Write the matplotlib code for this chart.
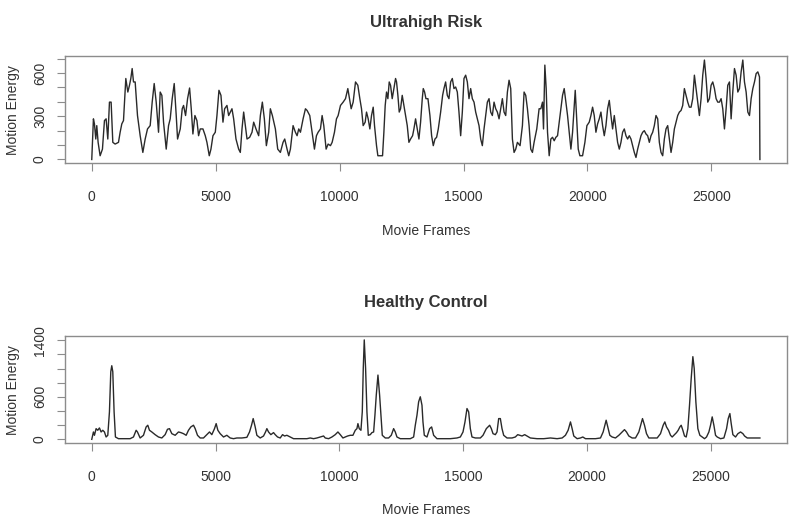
import matplotlib
matplotlib.use("Agg")
import matplotlib.pyplot as plt

# --- Ultrahigh Risk: frame, motion energy ---
uhr_frames = [0, 67, 108, 162, 202, 256, 337, 431, 512, 579, 647, 714, 781, 849, 943,
              1078, 1145, 1212, 1280, 1374, 1455, 1522, 1576, 1630, 1684, 1751, 1845,
              1953, 2061, 2155, 2249, 2357, 2438, 2519, 2600, 2694, 2761, 2829, 2896,
              3004, 3098, 3165, 3246, 3327, 3408, 3462, 3570, 3650, 3704, 3785, 3866,
              3947, 4014, 4081, 4162, 4243, 4310, 4378, 4486, 4580, 4647, 4741, 4809,
              4890, 4984, 5051, 5132, 5213, 5294, 5361, 5455, 5523, 5590, 5657, 5725,
              5819, 5927, 5994, 6062, 6129, 6196, 6264, 6371, 6466, 6533, 6627, 6735,
              6803, 6883, 6964, 7045, 7139, 7206, 7287, 7409, 7503, 7611, 7718, 7786,
              7880, 7948, 8015, 8123, 8217, 8285, 8352, 8420, 8527, 8622, 8689, 8796,
              8891, 8985, 9066, 9133, 9227, 9295, 9362, 9456, 9537, 9631, 9699, 9793,
              9874, 9941, 10036, 10143, 10238, 10332, 10399, 10467, 10547, 10642, 10736,
              10817, 10884, 10951, 11032, 11086, 11154, 11221, 11288, 11356, 11409,
              11490, 11544, 11652, 11733, 11787, 11840, 11894, 11948, 12002, 12056,
              12123, 12191, 12258, 12298, 12352, 12406, 12460, 12527, 12595, 12662,
              12730, 12797, 12864, 12945, 12999, 13066, 13134, 13201, 13268, 13336,
              13376, 13430, 13484, 13565, 13645, 13713, 13780, 13848, 13915, 13982,
              14077, 14157, 14211, 14278, 14346, 14413, 14481, 14548, 14615, 14683,
              14750, 14817, 14885, 14952, 15019, 15087, 15154, 15221, 15289, 15356,
              15424, 15491, 15558, 15626, 15693, 15760, 15828, 15895, 15962, 16030,
              16097, 16164, 16232, 16299, 16366, 16434, 16501, 16568, 16636, 16703,
              16771, 16838, 16905, 16973, 17040, 17107, 17175, 17282, 17377, 17444,
              17511, 17579, 17646, 17713, 17781, 17848, 17956, 18050, 18120, 18188,
              18228, 18282, 18336, 18390, 18457, 18524, 18592, 18659, 18726, 18794,
              18861, 18928, 18996, 19063, 19130, 19198, 19265, 19333, 19400, 19467,
              19508, 19561, 19629, 19696, 19804, 19898, 19979, 20073, 20141, 20208,
              20275, 20343, 20410, 20477, 20545, 20612, 20680, 20747, 20814, 20882,
              20949, 21016, 21084, 21151, 21218, 21286, 21353, 21420, 21488, 21555,
              21622, 21690, 21757, 21824, 21892, 21959, 22027, 22094, 22161, 22229,
              22296, 22363, 22431, 22498, 22565, 22633, 22700, 22767, 22835, 22902,
              22969, 23037, 23104, 23171, 23239, 23306, 23374, 23441, 23508, 23576,
              23643, 23710, 23778, 23845, 23912, 23980, 24047, 24114, 24182, 24249,
              24316, 24384, 24451, 24518, 24586, 24653, 24721, 24788, 24855, 24923,
              24990, 25057, 25125, 25192, 25259, 25327, 25394, 25461, 25529, 25596,
              25663, 25731, 25798, 25865, 25933, 26000, 26068, 26135, 26202, 26270,
              26337, 26404, 26472, 26539, 26606, 26674, 26741, 26808, 26876, 26943,
              26960]
uhr_energy = [0, 282, 247, 142, 235, 119, 26, 72, 270, 282, 142, 398, 398, 119, 107,
              119, 189, 247, 270, 562, 468, 515, 562, 631, 538, 538, 305,
              165, 49, 142, 212, 235, 398, 527, 398, 189, 468, 445, 259,
              72, 235, 282, 422, 527, 305, 142, 212, 352, 375, 305, 422,
              496, 352, 177, 305, 270, 165, 212, 212, 165, 119, 26, 72,
              165, 189, 305, 480, 445, 259, 352, 375, 305, 329, 352, 282,
              142, 72, 49, 212, 329, 235, 142, 154, 189, 259, 212, 165,
              305, 398, 282, 96, 189, 352, 305, 212, 72, 49, 119, 142,
              72, 26, 72, 235, 189, 165, 212, 189, 282, 352, 340, 305,
              189, 72, 165, 189, 212, 305, 235, 72, 107, 96, 119, 189,
              282, 305, 375, 398, 422, 492, 422, 352, 398, 538, 515,
              422, 352, 235, 259, 329, 282, 212, 305, 363, 235,
              96, 26, 26, 26, 189, 375, 468, 422, 538, 515,
              422, 492, 562, 538, 445, 329, 352, 445, 375, 305,
              235, 119, 142, 165, 212, 282, 212, 142, 259, 422,
              492, 468, 422, 422, 305, 165, 96, 142, 154, 212,
              329, 445, 492, 538, 445, 422, 538, 562, 492, 503,
              468, 329, 165, 329, 562, 585, 538, 422, 492, 422,
              398, 329, 282, 235, 142, 96, 212, 305, 398, 422,
              329, 305, 398, 352, 329, 282, 352, 422, 329, 305,
              468, 550, 492, 142, 49, 72, 119, 96, 235, 468,
              445, 352, 235, 72, 49, 119, 212, 352, 352, 398,
              212, 655, 492, 189, 26, 142, 154, 130, 154, 165,
              259, 352, 445, 492, 398, 305, 189, 72, 189, 375,
              480, 305, 72, 26, 26, 119, 235, 259, 305, 363,
              305, 189, 247, 282, 329, 235, 165, 235, 352, 410,
              305, 212, 305, 212, 119, 72, 119, 189, 212, 165,
              142, 165, 142, 96, 49, 14, 72, 119, 165, 189,
              200, 177, 165, 119, 165, 189, 235, 305, 282, 119,
              49, 26, 142, 212, 235, 142, 49, 119, 212, 259,
              305, 329, 340, 375, 492, 445, 398, 363, 363, 422,
              585, 492, 398, 305, 422, 585, 690, 562, 398, 422,
              515, 538, 492, 422, 398, 398, 422, 352, 212, 352,
              515, 538, 282, 468, 631, 585, 468, 492, 608, 690,
              538, 468, 329, 305, 422, 492, 538, 596, 608, 573,
              0]

# --- Healthy Control: frame, motion energy ---
hc_frames = [0, 67, 108, 175, 242, 310, 377, 445, 512, 579, 647, 714, 768, 808, 849,
             902, 956, 1078, 1280, 1549, 1684, 1792, 1845, 1953, 2088, 2196, 2263,
             2330, 2425, 2559, 2694, 2829, 2963, 3058, 3139, 3233, 3368, 3502, 3597,
             3704, 3812, 3906, 4001, 4108, 4176, 4270, 4378, 4512, 4647, 4755, 4849,
             4957, 5024, 5092, 5186, 5321, 5455, 5590, 5725, 5859, 6062, 6264, 6371,
             6452, 6519, 6600, 6668, 6803, 6937, 7018, 7072, 7139, 7233, 7341, 7409,
             7503, 7611, 7705, 7786, 7880, 8015, 8150, 8419, 8688, 8823, 8958, 9093,
             9227, 9362, 9429, 9564, 9699, 9833, 9941, 10036, 10143, 10238, 10332,
             10440, 10547, 10642, 10709, 10749, 10803, 10871, 10925, 10965, 11005,
             11059, 11113, 11167, 11248, 11315, 11383, 11436, 11490, 11558, 11625,
             11679, 11733, 11854, 11989, 12096, 12191, 12258, 12325, 12460, 12662,
             12864, 12999, 13066, 13134, 13201, 13268, 13336, 13376, 13430, 13538,
             13645, 13726, 13807, 13942, 14211, 14481, 14750, 14885, 14993, 15073,
             15154, 15221, 15289, 15356, 15491, 15693, 15801, 15868, 15935, 16003,
             16070, 16137, 16205, 16299, 16366, 16434, 16501, 16568, 16636, 16771,
             16973, 17107, 17202, 17282, 17377, 17484, 17579, 17713, 17983, 18255,
             18524, 18794, 18996, 19130, 19238, 19333, 19400, 19467, 19602, 19737,
             19831, 19939, 20141, 20343, 20545, 20653, 20720, 20774, 20841, 20922,
             21016, 21151, 21286, 21420, 21515, 21595, 21690, 21824, 21959, 22094,
             22188, 22242, 22323, 22404, 22498, 22633, 22835, 22969, 23077, 23144,
             23212, 23293, 23374, 23441, 23535, 23616, 23683, 23751, 23805, 23872,
             23939, 24007, 24074, 24141, 24209, 24276, 24330, 24397, 24478, 24559,
             24653, 24747, 24828, 24923, 24990, 25057, 25125, 25192, 25259, 25394,
             25529, 25637, 25704, 25771, 25825, 25892, 26000, 26095, 26202, 26297,
             26364, 26472, 26741, 26984]
hc_energy = [0, 104, 57, 151, 128, 161, 104, 128, 104, 33, 57, 388, 955, 1040, 955,
             388, 33, 9, 9, 9, 33, 128, 104, 19, 57, 175, 199,
             128, 104, 66, 33, 19, 66, 142, 151, 80, 57, 104, 95,
             80, 57, 128, 175, 199, 151, 57, 19, 19, 66, 104, 66,
             151, 222, 128, 80, 33, 57, 19, 9, 19, 19, 28, 104,
             199, 293, 175, 57, 19, 47, 104, 151, 104, 66, 95, 66,
             33, 19, 66, 47, 57, 33, 9, 9, 9, 19, 9, 19,
             33, 47, 19, 9, 33, 66, 104, 66, 19, 33, 47,
             57, 57, 128, 151, 222, 151, 128, 388, 1003, 1405,
             1003, 388, 57, 66, 95, 104, 341, 624, 908, 624,
             341, 57, 19, 19, 57, 151, 104, 33, 9, 9,
             9, 33, 199, 341, 530, 601, 482, 246, 57, 33,
             151, 175, 57, 9, 9, 9, 19, 33, 104, 246,
             435, 388, 151, 33, 19, 19, 57, 104, 151, 175,
             199, 151, 80, 66, 104, 293, 293, 151, 57, 19,
             19, 33, 66, 57, 47, 66, 47, 19, 9, 9,
             19, 9, 19, 57, 128, 246, 151, 47, 9, 19,
             33, 9, 9, 9, 19, 104, 199, 270, 175, 57,
             33, 19, 57, 104, 137, 104, 47, 19, 19, 104,
             222, 293, 199, 80, 19, 19, 19, 80, 199, 246,
             175, 128, 57, 33, 66, 95, 128, 175, 199, 128,
             47, 33, 151, 482, 861, 1168, 1003, 530, 151, 57,
             33, 9, 33, 104, 199, 317, 199, 57, 33, 9,
             19, 151, 293, 364, 222, 66, 33, 80, 104, 80,
             47, 19, 19, 19]

frame_ticks = [0, 5000, 10000, 15000, 20000, 25000]
uhr_ticks = [0, 100, 200, 300, 400, 500, 600, 700]
uhr_ticklabels = ['0', '', '', '300', '', '', '600', '']
hc_ticks = [0, 200, 400, 600, 800, 1000, 1200, 1400]
hc_ticklabels = ['0', '', '', '600', '', '', '', '1400']

plt.rcParams['font.family'] = ['Liberation Sans', 'DejaVu Sans']
TEXT = '#333333'
BOX = '#8c8c8c'


def draw_panel(ax, frames, energy, title, yticks, yticklabels):
    ax.plot(frames, energy, color='#2a2a2a', linewidth=1.0)
    ax.margins(x=0.04, y=0.04)
    ax.set_title(title, fontsize=12, fontweight='bold', color=TEXT, pad=21)

    ax.set_xticks(frame_ticks)
    ax.set_xticklabels([str(t) for t in frame_ticks])
    ax.set_yticks(yticks)
    ax.set_yticklabels(yticklabels, rotation=90, va='center')
    ax.tick_params(axis='both', colors=BOX, labelcolor=TEXT, labelsize=10,
                   length=6, width=0.8)
    ax.tick_params(axis='x', pad=13)
    ax.tick_params(axis='y', pad=7)

    for side in ax.spines.values():
        side.set_color(BOX)
        side.set_linewidth(1.0)

    ax.set_xlabel('Movie Frames', fontsize=10, color=TEXT)
    ax.set_ylabel('Motion Energy', fontsize=10, color=TEXT)
    ax.xaxis.set_label_coords(0.5, -0.56)
    ax.yaxis.set_label_coords(-0.063, 0.5)


fig = plt.figure(figsize=(8.0, 5.29), dpi=100)
ax_top = fig.add_axes([0.0813, 0.691, 0.902, 0.203])
ax_bot = fig.add_axes([0.0813, 0.162, 0.902, 0.203])

draw_panel(ax_top, uhr_frames, uhr_energy, 'Ultrahigh Risk', uhr_ticks, uhr_ticklabels)
draw_panel(ax_bot, hc_frames, hc_energy, 'Healthy Control', hc_ticks, hc_ticklabels)

fig.savefig('out.png', dpi=100)
plt.close(fig)
